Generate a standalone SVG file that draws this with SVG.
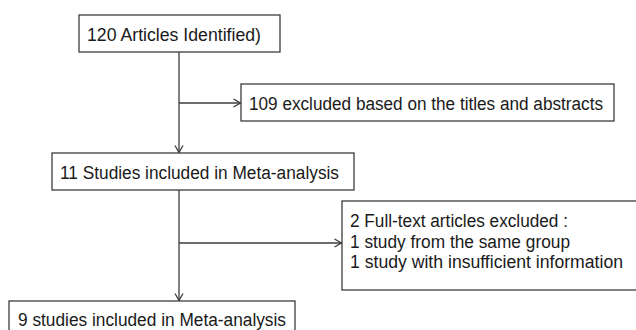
<svg xmlns="http://www.w3.org/2000/svg" width="636" height="330" viewBox="0 0 636 330">
<defs>
<style>
.box{fill:#fff;stroke:#3c3c3c;stroke-width:1.3}
.t{font-family:"Liberation Sans",Arial,sans-serif;font-size:18px;fill:#1a1a1a}
.ln{fill:none;stroke:#3c3c3c;stroke-width:1.3}
</style>
<marker id="arr" viewBox="0 0 10 10" refX="9" refY="5" markerWidth="10" markerHeight="10" markerUnits="userSpaceOnUse" orient="auto">
<path d="M2,1 L9,5 L2,9" fill="none" stroke="#3c3c3c" stroke-width="1.3"/>
</marker>
</defs>
<rect width="636" height="330" fill="#fff"/>
<g id="connectors">
<line class="ln" x1="179" y1="52" x2="179" y2="152.5" marker-end="url(#arr)"/>
<line class="ln" x1="179" y1="103" x2="240.5" y2="103" marker-end="url(#arr)"/>
<line class="ln" x1="179" y1="190" x2="179" y2="300.5" marker-end="url(#arr)"/>
<line class="ln" x1="179" y1="243" x2="341.5" y2="243" marker-end="url(#arr)"/>
</g>
<g id="n1">
<rect class="box" x="79" y="15" width="201" height="37"/>
<text class="t" x="87" y="41" textLength="174" lengthAdjust="spacingAndGlyphs">120 Articles Identified)</text>
</g>
<g id="n2">
<rect class="box" x="241" y="84" width="373" height="37"/>
<text class="t" x="249" y="109.5" textLength="354" lengthAdjust="spacingAndGlyphs">109 excluded based on the titles and abstracts</text>
</g>
<g id="n3">
<rect class="box" x="52" y="153" width="302" height="37"/>
<text class="t" x="60" y="178.5" textLength="279" lengthAdjust="spacingAndGlyphs">11 Studies included in Meta-analysis</text>
</g>
<g id="n4">
<rect class="box" x="342" y="201" width="300" height="89"/>
<text class="t" x="350" y="227" textLength="218" lengthAdjust="spacingAndGlyphs">2 Full-text articles excluded :</text>
<text class="t" x="350" y="248" textLength="220" lengthAdjust="spacingAndGlyphs">1 study from the same group</text>
<text class="t" x="350" y="268" textLength="273" lengthAdjust="spacingAndGlyphs">1 study with insufficient information</text>
</g>
<g id="n5">
<rect class="box" x="9" y="301" width="286" height="35"/>
<text class="t" x="18" y="325.5" textLength="268" lengthAdjust="spacingAndGlyphs">9 studies included in Meta-analysis</text>
</g>
</svg>
